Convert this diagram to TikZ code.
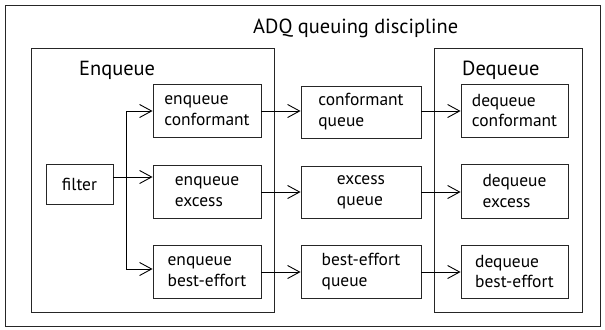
\documentclass[tikz,border=0pt]{standalone}
\usepackage{fontspec}
\setmainfont{PT Sans}
\usetikzlibrary{arrows.meta}
\begin{document}
\begin{tikzpicture}[x=1bp,y=-1bp,
  frame/.style={draw=black!85, line width=1bp},
  box/.style={draw=black!85, line width=0.9bp, inner sep=0pt, align=left,
    font=\fontsize{17.5}{21}\selectfont},
  lbl/.style={inner sep=0pt, anchor=base west, font=\fontsize{20.5}{24}\selectfont},
  arr/.style={line width=0.9bp, -{Straight Barb[length=12bp,width=13bp,line width=0.9bp]}},
  ln/.style={line width=0.9bp}]
\useasboundingbox (0,0) rectangle (605,329);
% frames
\node[frame, minimum width=594bp, minimum height=321bp, inner sep=0pt] (outer) at (303,165.5) {};
\node[frame, minimum width=242bp, minimum height=264bp, inner sep=0pt] (enq) at (153,180) {};
\node[frame, minimum width=148bp, minimum height=264bp, inner sep=0pt] (deq) at (508,180) {};
\node[lbl] (title) at (253,33) {ADQ queuing discipline};
\node[lbl] (enqlbl) at (79,75) {Enqueue};
\node[lbl] (deqlbl) at (462,75) {Dequeue};
% boxes
\node[box, minimum width=67bp, minimum height=40bp] (filter) at (79.5,184) {filter};
\node[box, minimum width=108bp, minimum height=53bp] (ec) at (207,110.5) {enqueue\\conformant};
\node[box, minimum width=108bp, minimum height=53bp] (ee) at (207,191.5) {enqueue\\excess};
\node[box, minimum width=108bp, minimum height=53bp] (eb) at (207,271.5) {enqueue\\best-effort};
\node[box, minimum width=120bp, minimum height=52bp] (qc) at (361,112) {conformant\\queue};
\node[box, minimum width=120bp, minimum height=52bp] (qe) at (361,192) {excess\\queue};
\node[box, minimum width=120bp, minimum height=53bp] (qb) at (361,271.5) {best-effort\\queue};
\node[box, minimum width=107bp, minimum height=53bp] (dc) at (514.5,110.5) {dequeue\\conformant};
\node[box, minimum width=107bp, minimum height=54bp] (de) at (514.5,191) {dequeue\\excess};
\node[box, minimum width=107bp, minimum height=53bp] (db) at (514.5,271.5) {dequeue\\best-effort};
% filter fan-out
\coordinate (fo) at (113,177);
\coordinate (st) at (126,111);
\coordinate (sb) at (126,269);
\draw[arr] (fo) -- (fo -| ee.west);
\draw[ln] (st) -- (sb);
\draw[arr] (st) -- (st -| ec.west);
\draw[arr] (sb) -- (sb -| eb.west);
% enqueue -> queue
\draw[arr] (ec.east |- 0,111) -- (qc.west |- 0,111);
\draw[arr] (ee.east |- 0,192) -- (qe.west |- 0,192);
\draw[arr] (eb.east |- 0,272) -- (qb.west |- 0,272);
% queue -> dequeue
\draw[arr] (qc.east |- 0,111) -- (dc.west |- 0,111);
\draw[arr] (qe.east |- 0,192) -- (de.west |- 0,192);
\draw[arr] (qb.east |- 0,272) -- (db.west |- 0,272);
\end{tikzpicture}
\end{document}
